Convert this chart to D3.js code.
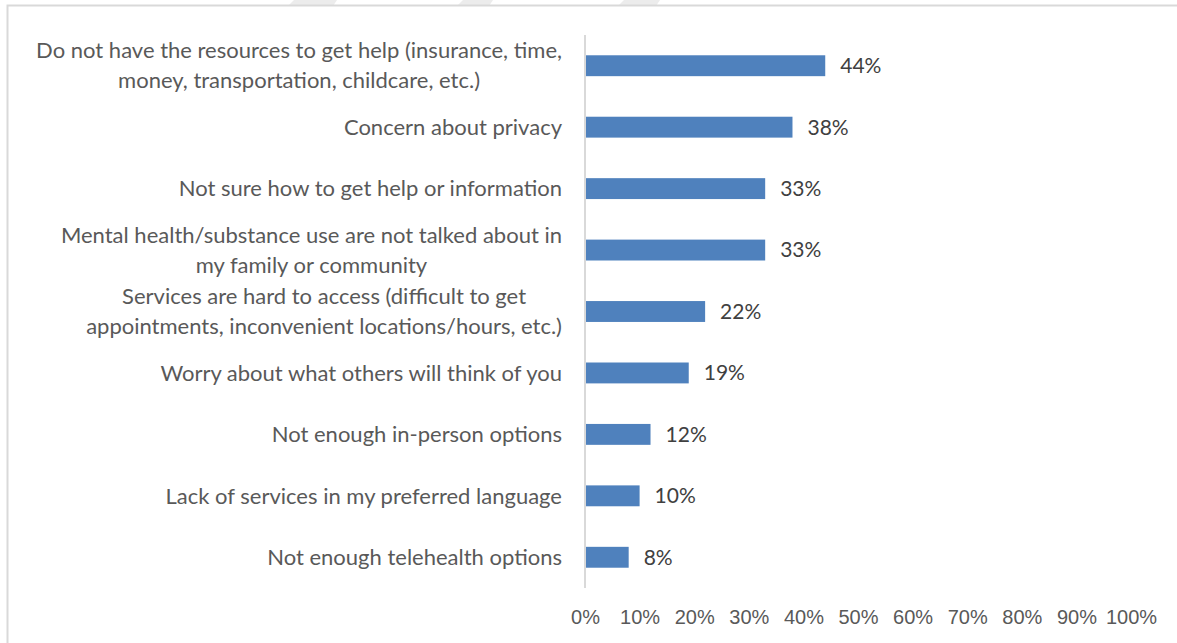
<!DOCTYPE html>
<html lang="en">
<head>
  <meta charset="UTF-8" />
  <title>Barriers to getting help</title>
  <script src="https://d3js.org/d3.v7.min.js"></script>
  <style>
    body { margin: 0; background: #fff; font-family: Lato, "Open Sans", sans-serif; }
    .cat { fill: #595959; font-size: 22px; }
    .val { fill: #404040; font-size: 21px; }
    .tick text { fill: #595959; font-size: 20px; }
  </style>
</head>
<body>
  <svg width="1177" height="643"></svg>

  <script>
    const svg = d3.select("svg");

    // Data, top to bottom
    const categories = [
      ["Do not have the resources to get help (insurance, time,", "money, transportation, childcare, etc.)"],
      ["Concern about privacy"],
      ["Not sure how to get help or information"],
      ["Mental health/substance use are not talked about in", "my family or community"],
      ["Services are hard to access (difficult to get", "appointments, inconvenient locations/hours, etc.)"],
      ["Worry about what others will think of you"],
      ["Not enough in-person options"],
      ["Lack of services in my preferred language"],
      ["Not enough telehealth options"]
    ];
    const values = [44, 38, 33, 33, 22, 19, 12, 10, 8];
    const xTicks = [0, 10, 20, 30, 40, 50, 60, 70, 80, 90, 100];

    const idx = d3.range(values.length);

    // faint watermark slivers along the top edge
    const marks = [[288, 337], [457, 493], [618, 660]];
    svg.selectAll("polygon.wm")
      .data(marks)
      .join("polygon")
      .attr("class", "wm")
      .attr("fill", "#ececec")
      .attr("points", d => `${d[0]},6 ${d[0] + 6},0 ${d[1]},0 ${d[1] - 4},6`);

    // chart frame (runs off the right/bottom edge)
    svg.append("path")
      .attr("d", "M7.5,650 V5.5 H1180")
      .attr("fill", "none")
      .attr("stroke", "#d9d9d9")
      .attr("stroke-width", 2);

    const x = d3.scaleLinear().domain([0, 100]).range([585, 1131]);
    const y = d3.scaleBand().domain(idx).range([35, 588]).paddingInner(0.66).paddingOuter(0.33);

    // bars
    svg.selectAll("rect.bar")
      .data(idx)
      .join("rect")
      .attr("class", "bar")
      .attr("x", x(0))
      .attr("y", i => y(i))
      .attr("width", i => x(values[i]) - x(0))
      .attr("height", y.bandwidth())
      .attr("fill", "#4f81bd");

    // value labels
    svg.selectAll("text.val")
      .data(idx)
      .join("text")
      .attr("class", "val")
      .attr("x", i => x(values[i]) + 15)
      .attr("y", i => y(i) + y.bandwidth() / 2)
      .attr("dy", "0.35em")
      .text(i => values[i] + "%");

    // category labels: block right-aligned, wrapped lines centred in the block
    const lineH = 30;
    const labelRight = 562;
    const cat = svg.selectAll("text.cat")
      .data(idx)
      .join("text")
      .attr("class", "cat")
      .attr("text-anchor", "middle")
      .attr("y", i => y(i) + y.bandwidth() / 2 - (categories[i].length - 1) * lineH / 2);
    cat.selectAll("tspan")
      .data(i => categories[i])
      .join("tspan")
      .attr("x", labelRight)
      .attr("dy", (d, j) => j === 0 ? "0.35em" : lineH)
      .text(d => d);
    cat.each(function () {
      const spans = d3.select(this).selectAll("tspan");
      let w = 0;
      spans.each(function () { w = Math.max(w, this.getComputedTextLength()); });
      spans.attr("x", labelRight - w / 2);
    });

    // vertical axis line
    svg.append("line")
      .attr("x1", x(0)).attr("x2", x(0))
      .attr("y1", 35).attr("y2", 588)
      .attr("stroke", "#d9d9d9")
      .attr("stroke-width", 2);

    // x axis labels
    const xAxis = d3.axisBottom(x)
      .tickValues(xTicks)
      .tickFormat(d => d + "%")
      .tickSize(0)
      .tickPadding(0);
    svg.append("g")
      .attr("transform", "translate(0,610)")
      .call(xAxis)
      .call(g => g.select(".domain").remove())
      .call(g => g.selectAll("text").attr("font-family", null).attr("font-size", null));
  </script>
</body>
</html>
